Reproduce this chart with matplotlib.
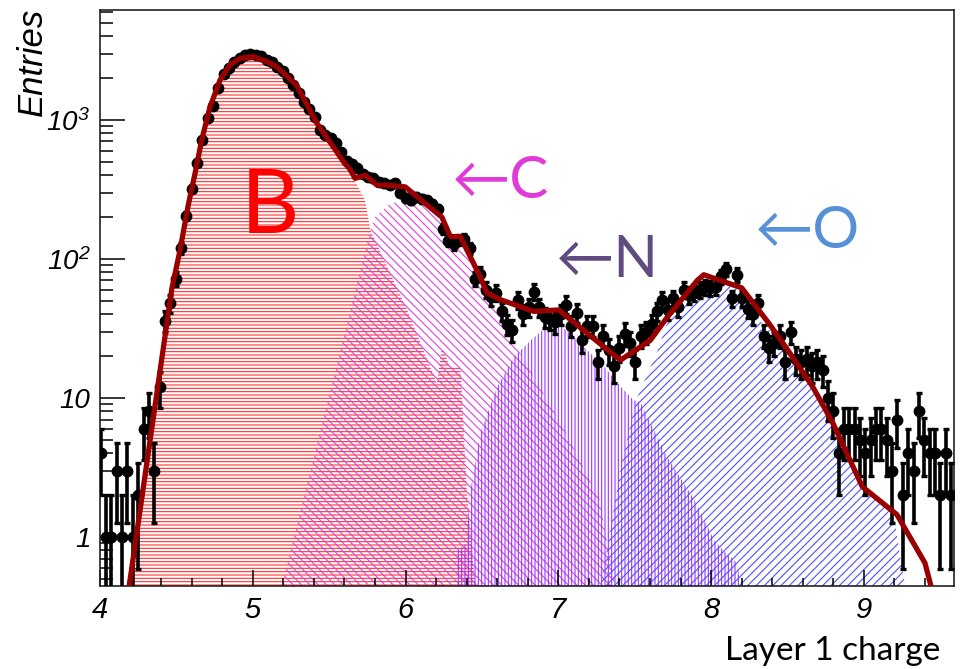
import numpy as np
import matplotlib
matplotlib.use("Agg")
import matplotlib.pyplot as plt
from matplotlib.ticker import FixedLocator, LogLocator, NullFormatter, MultipleLocator

plt.rcParams["font.family"] = ["Liberation Sans", "DejaVu Sans"]
plt.rcParams["mathtext.fontset"] = "custom"
plt.rcParams["mathtext.rm"] = "Liberation Sans:italic"
plt.rcParams["mathtext.it"] = "Liberation Sans:italic"
plt.rcParams["hatch.linewidth"] = 0.8

# data histogram (entries per bin, bin width 0.035)
bin_first = 4.005
bin_width = 0.035
counts = [4, 1, 1, 3, 1, 3, 1, 2, 6, 8, 3, 12, 36, 48,
          72, 120, 205, 320, 490, 720, 1030, 1260, 1700, 2150, 2380, 2600, 2780, 2930, 2960, 2950, 2880,
          2700, 2600, 2400, 2250, 2000, 1780, 1550, 1350, 1200, 1050, 850, 780, 740, 680, 590, 510, 480,
          450, 410, 390, 380, 360, 350, 340, 350,
          300, 275, 265, 280, 270, 265, 250, 230, 165, 135, 128, 137, 140, 120, 72,
          78, 60, 53, 57, 42, 34, 31, 51, 40, 45, 58, 45, 38, 37, 35, 40, 47, 33, 41, 26, 33, 33, 18, 28,
          22, 17, 23, 29, 25, 18, 28, 30, 34, 42, 51, 43,
          52, 45, 60, 55, 57, 60, 63, 62, 63, 75, 85, 52, 77, 52, 44, 40, 48, 28, 23, 25, 28, 18, 30, 19,
          18, 19, 17, 18, 16,
          10, 8, 4, 6, 6, 6, 5, 4, 5, 6, 6, 5, 3, 7, 2, 4, 3, 8, 5, 4, 4, 2, 4, 2]

# template components (outline vertices)
b_x = [4.185, 4.437, 4.47, 4.524, 4.578, 4.622, 4.666, 4.72, 4.786, 4.851, 4.917, 5.005, 5.092, 5.157,
       5.287, 5.419, 5.507, 5.594, 5.64, 5.735, 5.77, 6.01, 6.205, 6.235, 6.25, 6.29, 6.36, 6.40, 6.46]
b_y = [0.4, 34, 61, 116, 245, 412, 720, 1240, 1940, 2490, 2780, 2850, 2630, 2420,
       1780, 950, 690, 470, 415, 266, 162, 43, 12.8, 22, 22, 16.6, 16.6, 2.3, 0.4]

c_x = [5.18, 5.77, 5.80, 5.90, 6.01, 6.12, 6.23, 6.29, 6.38, 6.47, 6.53, 6.62, 6.70, 6.75, 7.03, 7.27, 7.38]
c_y = [0.4, 162, 200, 250, 266, 240, 200, 154, 130, 88, 55, 38, 27, 21, 6.2, 1.85, 0.4]

n_x = [6.33, 6.34, 6.40, 6.42, 6.49, 6.60, 6.71, 6.82, 6.93, 7.00, 7.08, 7.19, 7.30, 7.41, 7.49, 7.54,
       7.71, 7.89, 8.02, 8.08, 8.17, 8.20]
n_y = [0.4, 0.8, 0.9, 2.0, 5.6, 12, 19.8, 26, 33, 34, 29, 22, 16.8, 12, 9.7, 9.2,
       3.8, 1.85, 0.95, 0.8, 0.65, 0.4]

o_x = [7.27, 7.41, 7.51, 7.65, 7.71, 7.78, 7.82, 7.93, 8.02, 8.10, 8.19, 8.32, 8.45, 8.58, 8.69, 8.80,
       8.93, 9.02, 9.20, 9.24, 9.28]
o_y = [0.4, 3.2, 9.7, 22, 34, 45, 53, 67, 63, 67, 60, 36, 26, 16, 10, 6.6,
       3.2, 2.2, 1.4, 0.68, 0.4]

# total fit
fit_x = [4.185, 4.437, 4.47, 4.524, 4.578, 4.622, 4.666, 4.72, 4.786, 4.851, 4.917, 5.005, 5.092, 5.157,
         5.287, 5.419, 5.507, 5.594, 5.637, 5.670, 5.736, 5.813, 5.878, 5.998, 6.140, 6.238, 6.293, 6.358,
         6.435, 6.489, 6.533, 6.62, 6.838, 7.002, 7.406, 7.602, 7.712, 7.909, 7.952, 8.2, 8.382, 8.491,
         8.666, 8.797, 8.99, 9.216, 9.40, 9.45]
fit_y = [0.4, 34, 61, 116, 245, 412, 720, 1240, 1940, 2490, 2780, 2850, 2630, 2420,
         1780, 950, 690, 500, 440, 380, 400, 340, 340, 330, 245, 200, 145, 145,
         98, 74, 57, 51, 42, 43, 18.7, 26, 38, 70, 77, 62, 34, 23,
         12, 6.6, 2.3, 1.45, 0.65, 0.4]

fig = plt.figure(figsize=(9.6, 6.69), dpi=100)
ax = fig.add_axes([100 / 960, 83 / 669, 854 / 960, 576 / 669])
ax.set_yscale("log")

ax.fill_between(b_x, b_y, 1e-3, facecolor="none", edgecolor="#ff3030", hatch="-----", linewidth=0)
ax.fill_between(c_x, c_y, 1e-3, facecolor="none", edgecolor="#e040e0", hatch="\\\\\\\\", linewidth=0)
ax.fill_between(n_x, n_y, 1e-3, facecolor="none", edgecolor="#9933ff", hatch="|||||", linewidth=0)
ax.fill_between(o_x, o_y, 1e-3, facecolor="none", edgecolor="#5050ff", hatch="////", linewidth=0)

cnt = np.array(counts, dtype=float)
xc = bin_first + bin_width * np.arange(len(cnt))
err = np.sqrt(cnt)
lo = np.minimum(err, cnt * 0.999)
ax.errorbar(xc, cnt, yerr=[lo, err], fmt="o", color="black", ms=7.5,
            elinewidth=2.6, capsize=2, capthick=2.4, zorder=3)

ax.plot(fit_x, fit_y, color="#990000", lw=3.8, zorder=4)

ax.set_xlim(4, 9.59)
ax.set_ylim(0.444, 6180)

ax.xaxis.set_major_locator(MultipleLocator(1))
ax.xaxis.set_minor_locator(MultipleLocator(0.2))
ax.yaxis.set_major_locator(FixedLocator([1, 10, 100, 1000]))
ax.yaxis.set_major_formatter(plt.FixedFormatter(["1", "10", "$10^{2}$", "$10^{3}$"]))
ax.yaxis.set_minor_locator(LogLocator(base=10, subs=range(2, 10)))
ax.yaxis.set_minor_formatter(NullFormatter())

ax.tick_params(axis="x", which="major", direction="in", length=11.5, width=1.1, pad=7,
               labelsize=21)
ax.tick_params(axis="x", which="minor", direction="in", length=6, width=1.1)
ax.tick_params(axis="y", which="major", direction="in", length=18, width=1.1, pad=7,
               labelsize=20)
ax.tick_params(axis="y", which="minor", direction="in", length=9.4, width=1.1)
for lab in ax.get_xticklabels() + ax.get_yticklabels():
    lab.set_style("italic")
for sp in ax.spines.values():
    sp.set_linewidth(1.2)
    sp.set_color("#222222")

fig.text(32 / 960, 1 - 8 / 669, "Entries", rotation=90, ha="center", va="top",
         fontsize=25, style="italic")
fig.text(940 / 960, 9 / 669, "Layer 1 charge", ha="right", va="baseline",
         fontsize=24, family=["Lato", "DejaVu Sans"])

fig.text(270 / 960, 1 - 233 / 669, "B", ha="center", va="baseline", fontsize=65,
         color="#ff0000", family=["Lato", "DejaVu Sans"])
fig.text(452 / 960, 1 - 198 / 669, "\u2190C", ha="left", va="baseline", fontsize=42,
         color="#e03ad8", family=["Lato", "DejaVu Sans"])
fig.text(556 / 960, 1 - 277 / 669, "\u2190N", ha="left", va="baseline", fontsize=42,
         color="#5f4b7f", family=["Lato", "DejaVu Sans"])
fig.text(755 / 960, 1 - 248 / 669, "\u2190O", ha="left", va="baseline", fontsize=42,
         color="#5890d8", family=["Lato", "DejaVu Sans"])

fig.savefig("out.png", dpi=100)
